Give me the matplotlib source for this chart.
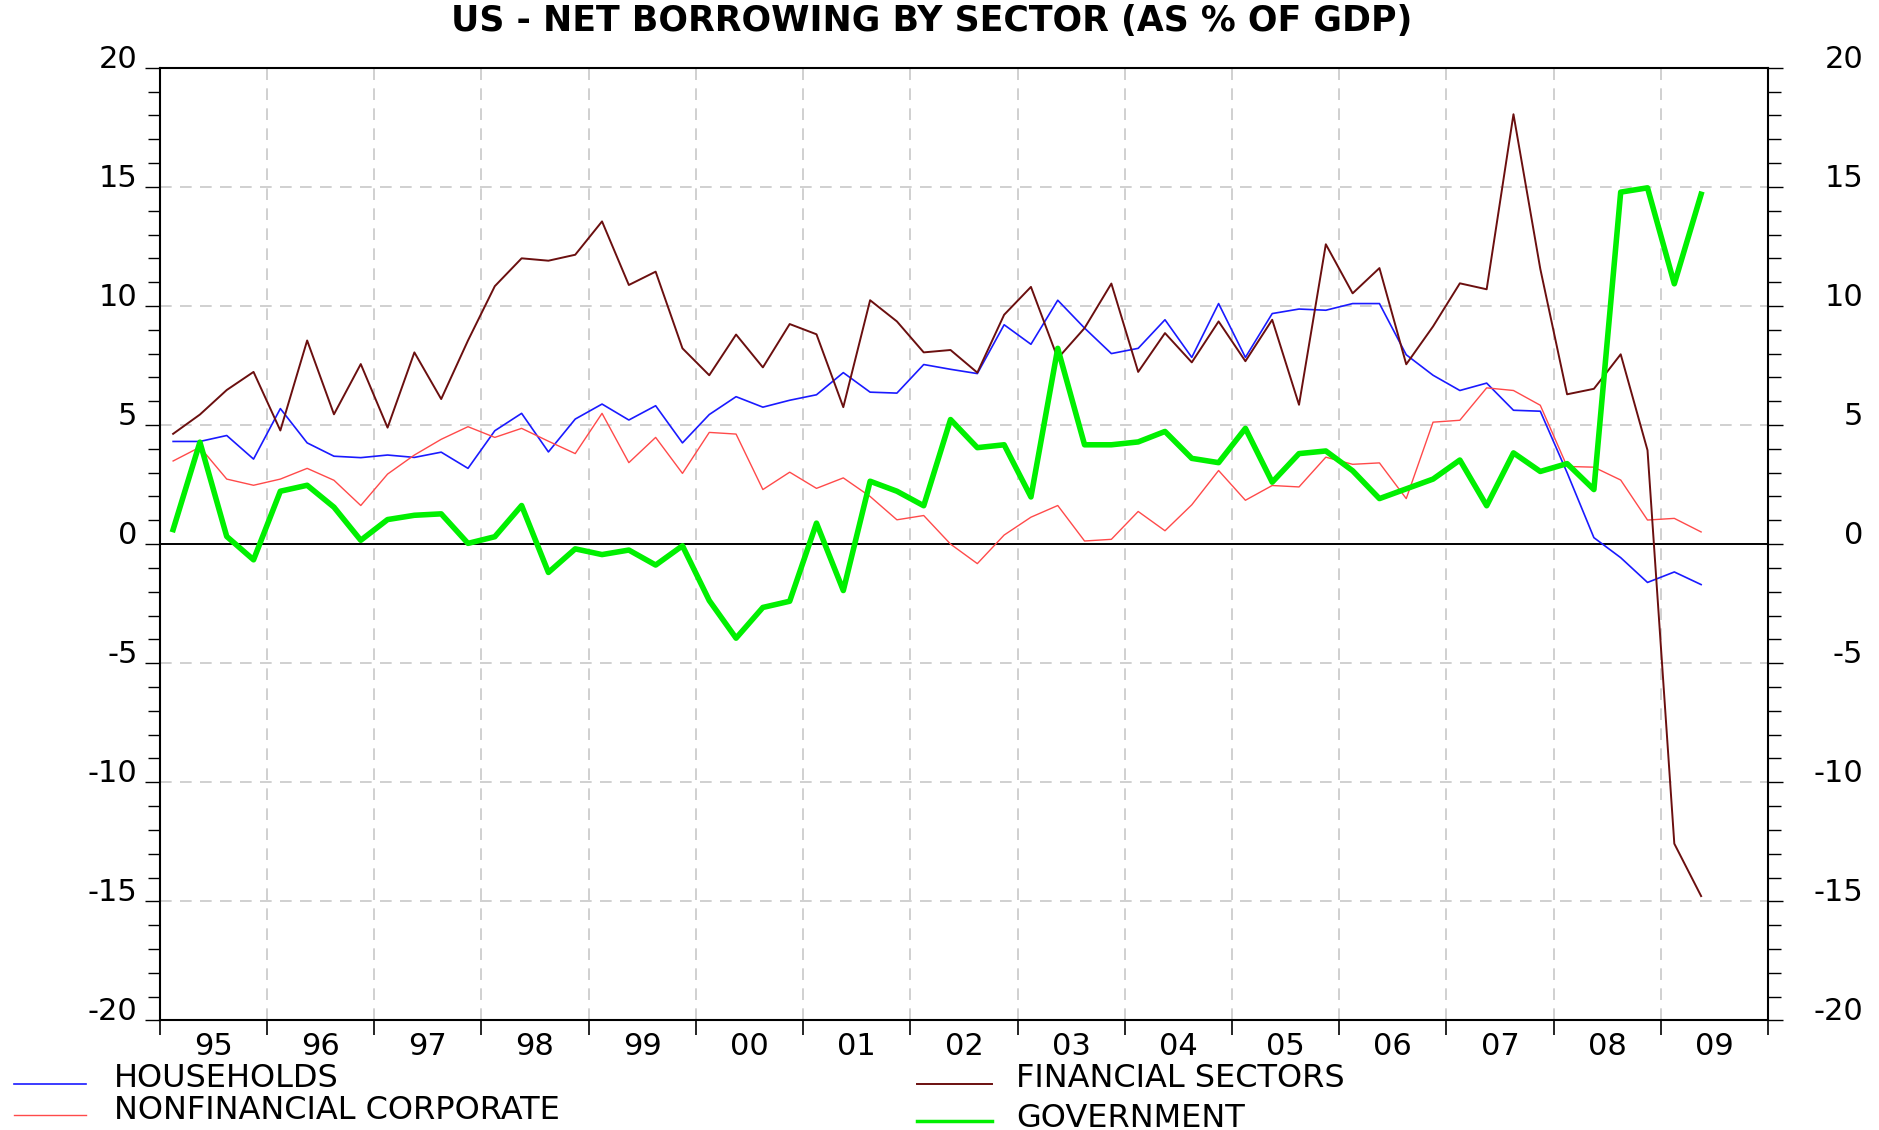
import numpy as np
import matplotlib.pyplot as plt
import matplotlib.transforms as mtransforms
from matplotlib.lines import Line2D
from matplotlib.ticker import MultipleLocator, FixedLocator, NullFormatter

plt.rcParams['font.family'] = ['DejaVu Sans']
plt.rcParams['axes.unicode_minus'] = False

years = ["95", "96", "97", "98", "99", "00", "01", "02", "03", "04", "05", "06", "07", "08", "09"]

# quarterly, 1995Q1 .. 2009Q2
households = [4.31, 4.31, 4.56, 3.57, 5.69, 4.25, 3.69, 3.63, 3.74, 3.64,
              3.86, 3.18, 4.76, 5.49, 3.87, 5.25, 5.88, 5.21, 5.81, 4.25,
              5.44, 6.19, 5.75, 6.04, 6.27, 7.20, 6.38, 6.34, 7.54, 7.34,
              7.16, 9.21, 8.39, 10.24, 9.07, 8.00, 8.22, 9.42, 7.84, 10.10,
              7.84, 9.68, 9.87, 9.82, 10.10, 10.10, 7.95, 7.09, 6.45, 6.76,
              5.62, 5.58, 3.00, 0.27, -0.57, -1.61, -1.17, -1.70]
nonfinancial = [3.49, 4.07, 2.73, 2.47, 2.73, 3.18, 2.68, 1.62, 2.94, 3.74,
                4.40, 4.93, 4.48, 4.86, 4.32, 3.80, 5.49, 3.42, 4.48, 2.97,
                4.69, 4.62, 2.29, 3.02, 2.34, 2.78, 2.00, 1.02, 1.20, 0.00,
                -0.82, 0.38, 1.13, 1.62, 0.13, 0.20, 1.37, 0.56, 1.65, 3.09,
                1.84, 2.46, 2.40, 3.65, 3.35, 3.41, 1.91, 5.12, 5.20, 6.56,
                6.45, 5.83, 3.26, 3.23, 2.69, 1.01, 1.08, 0.51]
financial = [4.63, 5.44, 6.47, 7.23, 4.77, 8.55, 5.45, 7.56, 4.89, 8.05,
             6.09, 8.55, 10.83, 12.00, 11.90, 12.15, 13.55, 10.88, 11.44, 8.22,
             7.09, 8.80, 7.42, 9.24, 8.81, 5.75, 10.24, 9.35, 8.05, 8.15,
             7.20, 9.63, 10.80, 7.80, 9.07, 10.94, 7.23, 8.86, 7.63, 9.35,
             7.68, 9.42, 5.85, 12.59, 10.53, 11.59, 7.55, 9.14, 10.95, 10.70,
             18.05, 11.56, 6.29, 6.52, 7.97, 3.94, -12.58, -14.78]
government = [0.61, 4.28, 0.32, -0.66, 2.22, 2.47, 1.55, 0.16, 1.03, 1.21,
              1.27, 0.03, 0.31, 1.62, -1.19, -0.20, -0.44, -0.25, -0.88, -0.07,
              -2.37, -3.95, -2.66, -2.40, 0.88, -1.95, 2.64, 2.22, 1.61, 5.23,
              4.05, 4.17, 1.98, 8.22, 4.17, 4.17, 4.29, 4.73, 3.60, 3.42,
              4.86, 2.60, 3.80, 3.91, 3.08, 1.91, 2.32, 2.73, 3.53, 1.61,
              3.83, 3.05, 3.38, 2.29, 14.78, 14.96, 10.93, 14.69]

labels = ["HOUSEHOLDS", "NONFINANCIAL CORPORATE", "FINANCIAL SECTORS", "GOVERNMENT"]
colors = ["#1a1aff", "#ff4a4a", "#6b0f0f", "#00f000"]
widths = [1.2, 1.0, 1.4, 4.0]
series = [households, nonfinancial, financial, government]

fig = plt.figure(figsize=(18.79, 11.30), dpi=100)
ax = fig.add_axes([0.085, 0.097, 0.856, 0.843])

q = np.arange(len(households))
for vals, c, w in zip(series, colors, widths):
    ax.plot(q, vals, color=c, lw=w, zorder=3)

nyears = len(years)
ax.set_xlim(-0.5, nyears * 4 - 0.5)
ax.set_ylim(-20, 20)

bounds = [-0.5 + 4 * k for k in range(nyears + 1)]
ax.xaxis.set_major_locator(FixedLocator(bounds))
ax.xaxis.set_major_formatter(NullFormatter())
ax.xaxis.set_minor_locator(FixedLocator([1.5 + 4 * k for k in range(nyears)]))
ax.set_xticklabels(years, minor=True)
ax.tick_params(axis='x', which='major', direction='out', length=11, width=1.2)
ax.tick_params(axis='x', which='minor', length=0, pad=8, labelsize=22)

ax.yaxis.set_major_locator(MultipleLocator(5))
ax.yaxis.set_minor_locator(MultipleLocator(1))
ax.tick_params(axis='y', which='both', direction='out', left=True, right=True,
               labelleft=True, labelright=True, width=1.0)
ax.tick_params(axis='y', which='major', length=11, pad=5, labelsize=22)
ax.tick_params(axis='y', which='minor', length=9)

# labels sit on the tick (baseline); right-hand labels are right aligned too
shift_r = mtransforms.ScaledTranslation(73 / 100, 0, fig.dpi_scale_trans)
for tick in ax.yaxis.get_major_ticks():
    tick.label1.set_va('baseline')
    tick.label2.set_va('baseline')
    tick.label2.set_ha('right')
    tick.label2.set_transform(tick.label2.get_transform() + shift_r)

for y in [-15, -10, -5, 5, 10, 15]:
    ax.axhline(y, color="#c8c8c8", lw=1.2, ls=(0, (7, 5)), zorder=1)
for b in bounds[1:-1]:
    ax.axvline(b, color="#c8c8c8", lw=1.2, ls=(0, (7, 5)), zorder=1)
ax.axhline(0, color="black", lw=1.4, zorder=2)

for s in ax.spines.values():
    s.set_linewidth(1.5)

fig.text(0.496, 0.981, "US - NET BORROWING BY SECTOR (AS % OF GDP)",
         ha='center', va='center', fontsize=25, fontweight='bold')

# legend laid out in two columns under the axes
leg_text_x = [0.0606, 0.0606, 0.5407, 0.5407]
leg_text_y = [0.038, 0.010, 0.038, 0.003]
leg_line_x = [(0.0076, 0.046), (0.0076, 0.046), (0.488, 0.528), (0.488, 0.528)]
leg_line_y = [0.041, 0.013, 0.041, 0.008]
for i in range(4):
    fig.text(leg_text_x[i], leg_text_y[i], labels[i], ha='left', va='baseline', fontsize=23)
    fig.add_artist(Line2D(leg_line_x[i], [leg_line_y[i]] * 2, color=colors[i],
                          lw=min(widths[i], 2.5), transform=fig.transFigure))

fig.savefig("out.png", dpi=100)
